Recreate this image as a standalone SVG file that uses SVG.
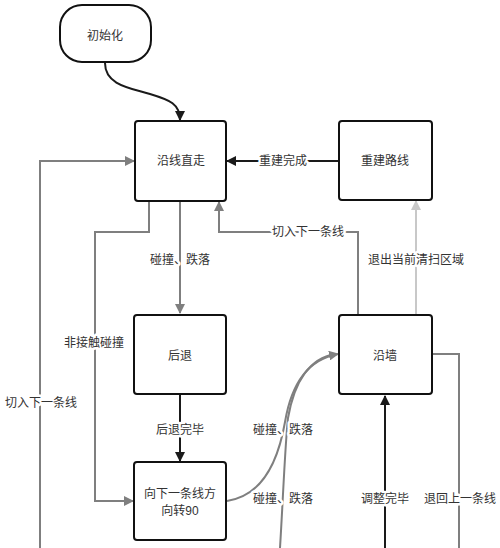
<svg xmlns="http://www.w3.org/2000/svg" width="500" height="548" viewBox="0 0 500 548">
<defs>
<marker id="ad" viewBox="0 0 10 10" refX="9" refY="5" markerWidth="10" markerHeight="10" markerUnits="userSpaceOnUse" orient="auto"><path d="M0,0 L10,5 L0,10 Z" fill="#1a1a1a"/></marker>
<marker id="ag" viewBox="0 0 10 10" refX="9" refY="5" markerWidth="10" markerHeight="10" markerUnits="userSpaceOnUse" orient="auto"><path d="M0,0 L10,5 L0,10 Z" fill="#7f7f7f"/></marker>
<marker id="al" viewBox="0 0 10 10" refX="9" refY="5" markerWidth="10" markerHeight="10" markerUnits="userSpaceOnUse" orient="auto"><path d="M0,0 L10,5 L0,10 Z" fill="#c8c8c8"/></marker>
</defs>
<style>
.box{fill:#fff;stroke:#111;stroke-width:2}
.t{font-family:"Liberation Sans","Noto Sans CJK SC",sans-serif;font-size:12px;fill:#333;text-anchor:middle;dominant-baseline:central}
.lbl{font-family:"Liberation Sans","Noto Sans CJK SC",sans-serif;font-size:12px;fill:#333;text-anchor:middle;dominant-baseline:central;paint-order:stroke;stroke:#fff;stroke-width:5px;stroke-linejoin:round}
.d{fill:none;stroke:#1a1a1a;stroke-width:2}
.g{fill:none;stroke:#7f7f7f;stroke-width:2}
.l{fill:none;stroke:#c8c8c8;stroke-width:2}
</style>
<rect width="500" height="548" fill="#fff"/>
<g id="connectors">
<path class="d" d="M105,63 C105,85 130,88 150,94 C170,100 180,104 180,120" marker-end="url(#ad)"/>
<path class="g" d="M40,548 L40,161 L134,161" marker-end="url(#ag)"/>
<path class="g" d="M149,201 L149,232 L95,232 L95,501 L133,501" marker-end="url(#ag)"/>
<path class="g" d="M180,201 L180,313" marker-end="url(#ag)"/>
<path class="g" d="M358,315 L358,232 L219,232 L219,202" marker-end="url(#ag)"/>
<path class="d" d="M339,161 L227,161" marker-end="url(#ad)"/>
<path class="l" d="M416,315 L416,201" marker-end="url(#al)"/>
<path class="d" d="M180,394 L180,461" marker-end="url(#ad)"/>
<path class="g" d="M432,354 L459,354 L459,548"/>
<path class="d" d="M385,548 L385,396" marker-end="url(#ad)"/>
<path class="g" d="M280,548 C283,500 285,445 288,418 C295,378 312,358 335,354"/>
<path class="g" d="M227,501 C262,496 278,462 285,422 C292,380 310,359 338,354" marker-end="url(#ag)"/>
<text class="lbl" x="41" y="403">切入下一条线</text>
<text class="lbl" x="94" y="343">非接触碰撞</text>
<text class="lbl" x="180" y="260">碰撞、跌落</text>
<text class="lbl" x="308" y="232">切入下一条线</text>
<text class="lbl" x="283" y="161">重建完成</text>
<text class="lbl" x="416" y="260">退出当前清扫区域</text>
<text class="lbl" x="180" y="430">后退完毕</text>
<text class="lbl" x="283" y="430">碰撞、跌落</text>
<text class="lbl" x="283" y="499">碰撞、跌落</text>
<text class="lbl" x="385" y="499">调整完毕</text>
<text class="lbl" x="460" y="499">退回上一条线</text>
</g>
<g id="init"><rect class="box" x="60" y="5" width="91" height="57" rx="22"/><text class="t" x="105" y="36">初始化</text></g>
<g id="straight"><rect class="box" x="135" y="121" width="91" height="80" rx="3"/><text class="t" x="181" y="161">沿线直走</text></g>
<g id="rebuild"><rect class="box" x="339" y="121" width="93" height="79" rx="3"/><text class="t" x="385" y="161">重建路线</text></g>
<g id="back"><rect class="box" x="134" y="315" width="92" height="79" rx="3"/><text class="t" x="180" y="356">后退</text></g>
<g id="wall"><rect class="box" x="339" y="315" width="93" height="79" rx="3"/><text class="t" x="385" y="356">沿墙</text></g>
<g id="turn"><rect class="box" x="134" y="462" width="92" height="78" rx="3"/><text class="t" x="180" y="494">向下一条线方</text><text class="t" x="180" y="511">向转90</text></g>
</svg>
